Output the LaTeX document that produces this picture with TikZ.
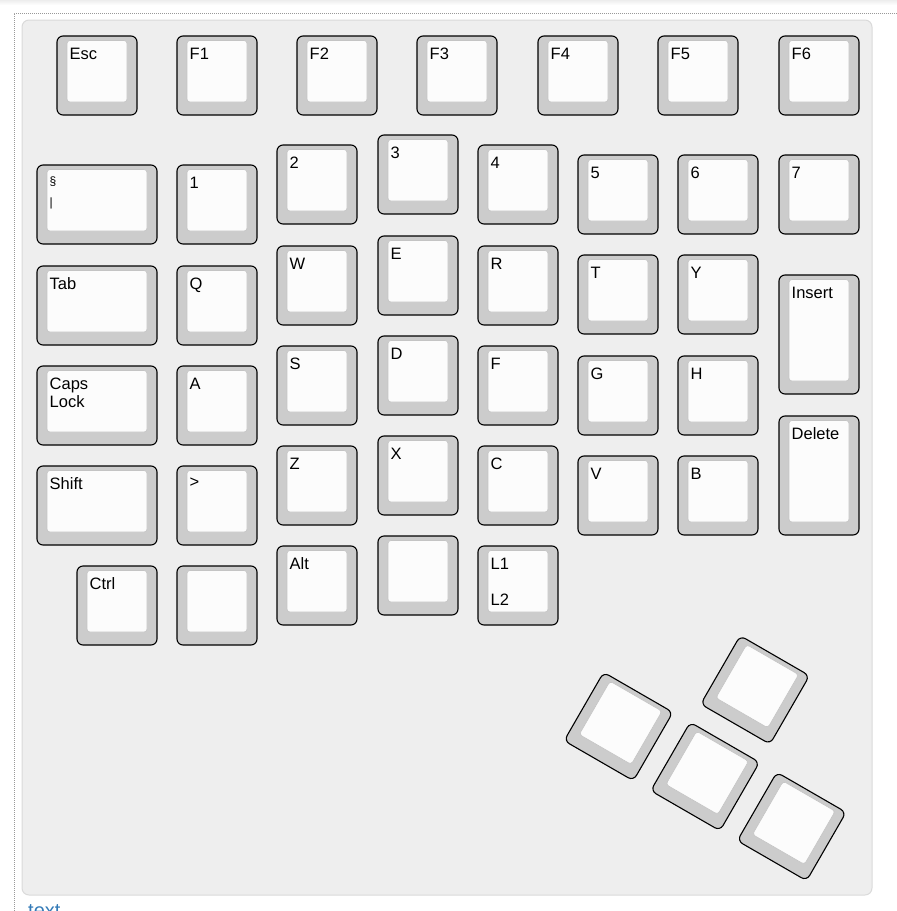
\documentclass[tikz,border=0pt]{standalone}
\usepackage{fontspec}
\setmainfont{Liberation Sans}
\definecolor{boardbg}{HTML}{EEEEEE}
\definecolor{boardedge}{HTML}{DADADA}
\definecolor{capside}{HTML}{CCCCCC}
\definecolor{captop}{HTML}{FCFCFC}
\definecolor{caprim}{HTML}{C4C4C4}
\definecolor{linkblue}{HTML}{337AB7}

% one keycap: name, x, y (top left, px), width, height, label
\newcommand{\kbkey}[6]{%
  \draw[keyside] (#2,#3) rectangle ++(#4,#5);
  \draw[keytop] (#2+10,#3+4.5) rectangle ++(#4-20,#5-17.5);
  \node[keylabel] (#1) at (#2+12.5,#3+11.5) {#6};
}

\begin{document}
\begin{tikzpicture}[x=1pt, y=-1pt,
  keyside/.style={fill=capside, draw=black, line width=1.1pt, rounded corners=6pt},
  keytop/.style={fill=captop, draw=caprim, line width=0.6pt, rounded corners=3pt},
  keylabel/.style={anchor=north west, inner sep=0pt, align=left,
    font=\fontsize{16.5}{18}\selectfont},
  board/.style={fill=boardbg, draw=boardedge, line width=1pt, rounded corners=7pt}]
  \clip (0,0) rectangle (897,911);

  % page frame
  \shade[top color=black!7, bottom color=white] (0,0) rectangle (897,5);
  \draw[gray!80, line width=0.8pt, dash pattern=on 1pt off 1pt] (897,13) -- (14,13) -- (14,911);
  \draw[board] (22,20) rectangle (872,895);

  % function row
  \foreach \x/\lb [count=\i] in {57/Esc, 177/F1, 297/F2, 417/F3, 538/F4, 658/F5, 779/F6}
    \kbkey{f-\i}{\x}{36}{80}{79}{\lb};

  % outer column, 1.5u wide
  \kbkey{sect}{37}{165}{120}{79}{\fontsize{12}{14}\selectfont §}
  \node[keylabel, font=\fontsize{12}{14}\selectfont] (bar) at (49.5,198) {|};
  \foreach \y/\lb [count=\i] in {266/Tab, 366/{Caps\\Lock}, 466/Shift}
    \kbkey{c1-\i}{37}{\y}{120}{79}{\lb};
  \kbkey{ctrl}{77}{566}{80}{79}{Ctrl}

  % staggered columns
  \foreach \y/\lb [count=\i] in {165/1, 266/Q, 366/A, 466/>, 566/{}}
    \kbkey{c2-\i}{177}{\y}{80}{79}{\lb};
  \foreach \y/\lb [count=\i] in {145/2, 246/W, 346/S, 446/Z, 546/Alt}
    \kbkey{c3-\i}{277}{\y}{80}{79}{\lb};
  \foreach \y/\lb [count=\i] in {135/3, 236/E, 336/D, 436/X, 536/{}}
    \kbkey{c4-\i}{378}{\y}{80}{79}{\lb};
  \foreach \y/\lb [count=\i] in {145/4, 246/R, 346/F, 446/C, 546/{L1\\[18pt]L2}}
    \kbkey{c5-\i}{478}{\y}{80}{79}{\lb};
  \foreach \y/\lb [count=\i] in {155/5, 255/T, 356/G, 456/V}
    \kbkey{c6-\i}{578}{\y}{80}{79}{\lb};
  \foreach \y/\lb [count=\i] in {155/6, 255/Y, 356/H, 456/B}
    \kbkey{c7-\i}{678}{\y}{80}{79}{\lb};

  % inner column, tall keys
  \kbkey{seven}{779}{155}{80}{79}{7}
  \kbkey{ins}{779}{275}{80}{119}{Insert}
  \kbkey{del}{779}{416}{80}{119}{Delete}

  % thumb cluster, turned 30 degrees
  \begin{scope}[shift={(618.5,726.5)}, rotate=-30]
    \foreach \p/\q [count=\i] in {0/0, 100/0, 200/0, 100/-100}
      \kbkey{th-\i}{\p-40}{\q-39.5}{80}{79}{};
  \end{scope}

  \node[anchor=base west, inner sep=0pt, text=linkblue,
    font=\fontsize{20}{24}\selectfont] (lnk) at (28,917.5) {text};
\end{tikzpicture}
\end{document}
